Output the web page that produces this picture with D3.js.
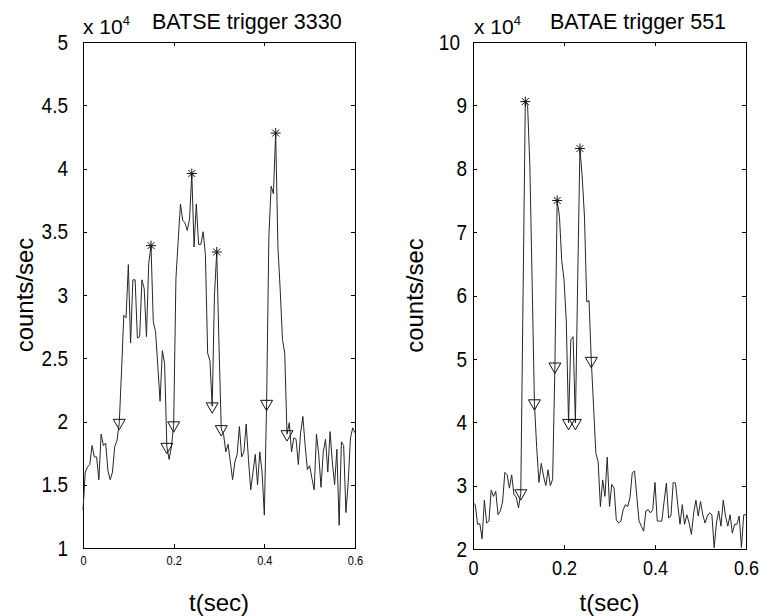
<!DOCTYPE html>
<html lang="en">
<head>
<meta charset="UTF-8">
<title>BATSE triggers</title>
<script src="https://cdn.jsdelivr.net/npm/d3@7"></script>
<style>
  body { margin: 0; background: #fff; }
  svg { display: block; background: #fff; font-family: "Liberation Sans", Arial, sans-serif; }
  .frame { fill: none; stroke: #000; stroke-width: 1; shape-rendering: crispEdges; }
  .axis path.domain { display: none; }
  .axis line { stroke: #000; shape-rendering: crispEdges; }
  .axis text { fill: #000; transform-box: fill-box; transform-origin: center; transform: scaleY(1.15); }
  .trace { fill: none; stroke: #262626; stroke-width: 1; }
  .mark { fill: none; stroke: #111; stroke-width: 1; }
</style>
</head>
<body>
<script>
// sample spacing (sec) and counts/sec in units of 1e4
var dt = 0.005;

var leftCounts = [
  1.30,1.60,1.64,1.66,1.81,1.72,1.72,1.54,1.90,1.81,
  1.83,1.61,1.54,1.60,1.80,1.85,1.99,2.40,2.84,2.82,
  3.24,2.62,3.12,3.12,2.66,2.67,3.12,3.05,2.67,3.25,
  3.39,2.79,2.71,2.44,2.16,2.56,2.46,1.80,1.70,1.80,
  1.97,3.13,3.43,3.72,3.59,3.57,3.51,3.60,3.96,3.38,
  3.72,3.40,3.40,3.50,3.32,2.54,2.48,2.12,3.00,3.34,
  2.60,1.94,1.90,1.76,1.82,1.68,1.54,1.68,1.74,1.96,
  1.72,1.76,1.98,1.70,1.46,1.60,1.74,1.50,1.76,1.60,
  1.26,2.14,3.46,3.86,3.80,4.28,3.38,3.04,2.65,2.54,
  1.90,1.99,1.76,1.87,1.86,1.66,1.91,2.04,1.81,1.62,
  1.65,1.55,1.46,1.90,1.74,1.48,1.76,1.86,1.60,1.92,
  1.68,1.50,1.78,1.18,1.84,1.81,1.28,1.52,1.87,1.95,
  1.91
];
var leftPeaks = [30, 48, 59, 85];
var leftValleys = [16, 37, 40, 57, 61, 81, 90];

var rightCounts = [
  2.73,2.70,2.39,2.40,2.16,2.77,2.41,2.44,2.93,2.83,
  2.91,2.54,2.60,2.74,3.21,3.17,2.96,3.17,2.86,2.82,
  2.65,2.88,6.00,9.06,9.00,8.03,6.20,4.30,3.60,3.05,
  3.35,3.15,3.00,3.25,3.00,3.10,4.88,7.50,7.25,6.55,
  6.25,5.60,3.99,5.30,5.35,3.99,6.20,8.32,7.87,7.24,
  5.90,5.92,4.97,4.25,3.51,3.38,2.67,3.09,2.83,3.45,
  2.67,3.02,2.96,2.46,2.41,2.44,2.62,2.70,2.67,2.81,
  3.20,3.23,2.83,2.44,2.36,2.28,2.60,2.62,2.57,2.62,
  3.05,2.44,2.44,2.44,2.75,3.04,2.49,2.52,3.05,3.04,
  2.70,2.39,2.70,2.39,2.54,2.41,2.23,2.57,2.77,2.52,
  2.75,2.54,2.41,2.52,2.57,2.54,2.02,2.41,2.60,2.36,
  2.77,2.52,2.36,2.54,2.25,2.39,2.39,2.52,2.02,2.54,
  2.54
];
var rightPeaks = [23, 37, 47];
var rightValleys = [21, 27, 36, 42, 45, 52];

var xTicks = [0, 0.2, 0.4, 0.6];
var leftYTicks = [1, 1.5, 2, 2.5, 3, 3.5, 4, 4.5, 5];
var rightYTicks = [2, 3, 4, 5, 6, 7, 8, 9, 10];

var W = 763, H = 616;
var svg = d3.select('body').append('svg')
  .attr('width', W)
  .attr('height', H);

var panels = [
  { counts: leftCounts, peaks: leftPeaks, valleys: leftValleys,
    x0: 83, x1: 355, top: 42, bottom: 548,
    yDomain: [1, 5], yTicks: leftYTicks,
    xFont: 11, xPad: 9, yPad: 15,
    title: 'BATSE trigger 3330', titleX: 152, expX: 83 },
  { counts: rightCounts, peaks: rightPeaks, valleys: rightValleys,
    x0: 473, x1: 746, top: 42, bottom: 549,
    yDomain: [2, 10], yTicks: rightYTicks,
    xFont: 18, xPad: 12, yPad: 6,
    title: 'BATAE trigger 551', titleX: 550, expX: 474 }
];

var fmt = d3.format('~g');

panels.forEach(function (p) {
  var x = d3.scaleLinear().domain([0, 0.6]).range([p.x0, p.x1]);
  var y = d3.scaleLinear().domain(p.yDomain).range([p.bottom, p.top]);
  var g = svg.append('g');

  // ticks on all four sides, pointing inward
  g.append('g').attr('class', 'axis')
    .attr('transform', 'translate(0,' + p.bottom + ')')
    .call(d3.axisBottom(x).tickValues(xTicks).tickFormat(fmt)
      .tickSize(-4).tickPadding(p.xPad))
    .selectAll('text').style('font-size', p.xFont + 'px');

  g.append('g').attr('class', 'axis')
    .attr('transform', 'translate(0,' + p.top + ')')
    .call(d3.axisTop(x).tickValues(xTicks).tickFormat('').tickSize(-4));

  g.append('g').attr('class', 'axis')
    .attr('transform', 'translate(' + p.x0 + ',0)')
    .call(d3.axisLeft(y).tickValues(p.yTicks).tickFormat(fmt)
      .tickSize(-4).tickPadding(p.yPad))
    .selectAll('text').style('font-size', '19px')
    .attr('dx', function (d) { return d >= 10 ? -7 : 0; });

  g.append('g').attr('class', 'axis')
    .attr('transform', 'translate(' + p.x1 + ',0)')
    .call(d3.axisRight(y).tickValues(p.yTicks).tickFormat('').tickSize(-4));

  g.append('rect').attr('class', 'frame')
    .attr('x', p.x0).attr('y', p.top)
    .attr('width', p.x1 - p.x0).attr('height', p.bottom - p.top);

  var line = d3.line()
    .x(function (d, i) { return x(i * dt); })
    .y(function (d) { return y(d); });

  g.append('path').attr('class', 'trace')
    .attr('d', line(p.counts));

  // '*' peaks
  var star = 'M0,-5V5M-5,0H5M-3.5,-3.5L3.5,3.5M-3.5,3.5L3.5,-3.5';
  g.selectAll('.peak').data(p.peaks).enter().append('path')
    .attr('class', 'mark')
    .attr('d', star)
    .attr('transform', function (i) {
      return 'translate(' + x(i * dt) + ',' + y(p.counts[i]) + ')';
    });

  // 'v' valleys
  var tri = d3.symbol().type(d3.symbolTriangle).size(62);
  g.selectAll('.valley').data(p.valleys).enter().append('path')
    .attr('class', 'mark')
    .attr('d', tri)
    .attr('transform', function (i) {
      return 'translate(' + x(i * dt) + ',' + y(p.counts[i]) + ') rotate(180)';
    });

  // labels
  var cx = (p.x0 + p.x1) / 2;
  g.append('text')
    .attr('x', cx).attr('y', 611)
    .attr('text-anchor', 'middle')
    .style('font-size', '24px')
    .text('t(sec)');

  g.append('text')
    .attr('transform', 'translate(' + (p.x0 - 50) + ',' + ((p.top + p.bottom) / 2) + ') rotate(-90)')
    .attr('text-anchor', 'middle')
    .style('font-size', '24px')
    .text('counts/sec');

  var ex = g.append('text')
    .attr('x', p.expX).attr('y', 34)
    .style('font-size', '21px');
  ex.append('tspan').text('x 10');
  ex.append('tspan').attr('dy', -9).style('font-size', '13px').text('4');

  g.append('text')
    .attr('x', p.titleX).attr('y', 29)
    .style('font-size', '21.5px')
    .text(p.title);
});
</script>
</body>
</html>
